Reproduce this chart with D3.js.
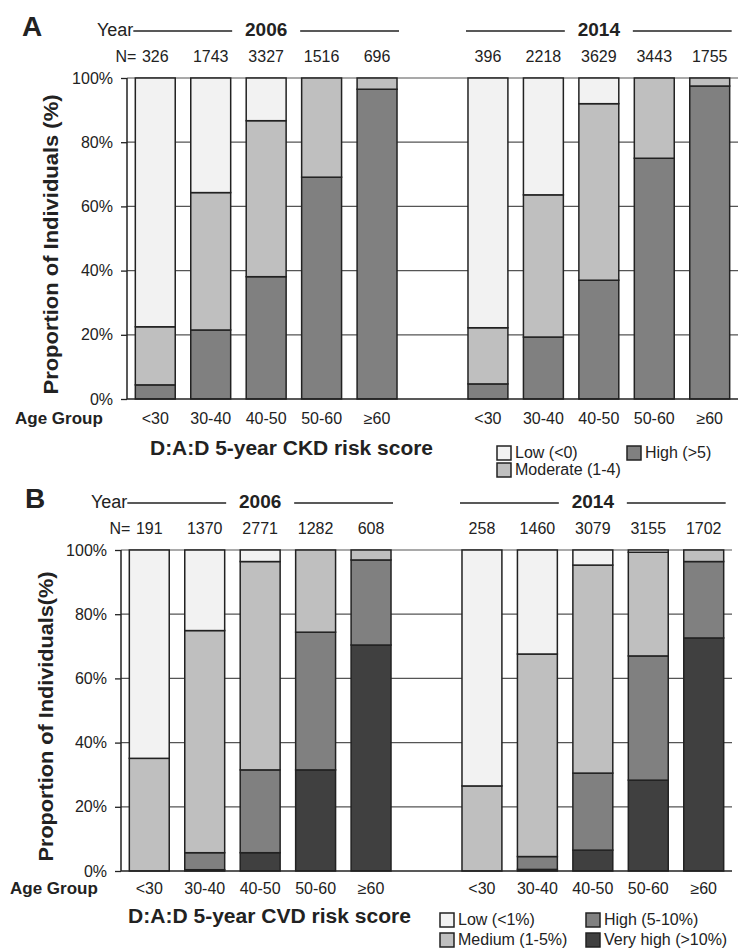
<!DOCTYPE html>
<html>
<head>
<meta charset="utf-8">
<script src="https://cdn.jsdelivr.net/npm/d3@7"></script>
<style>
  body { margin: 0; background: #fff; }
  text { font-family: "Liberation Sans", Arial, sans-serif; fill: #222; }
</style>
</head>
<body>
<div id="chart"></div>
<script>
// categories and ticks
const ageGroups = ["<30", "30-40", "40-50", "50-60", "≥60"];
const years = ["2006", "2014"];
const yTicks = [0, 20, 40, 60, 80, 100];

// panel A: CKD risk (segments bottom -> top, %)
const ckdSeries = ["High (>5)", "Moderate (1-4)", "Low (<0)"];
const ckdColors = ["#808080", "#bfbfbf", "#f2f2f2"];
const ckdN2006 = [326, 1743, 3327, 1516, 696];
const ckdN2014 = [396, 2218, 3629, 3443, 1755];
const ckdHigh2006 = [4.4, 21.5, 38.1, 69.1, 96.5];
const ckdModerate2006 = [18.1, 42.8, 48.6, 30.9, 3.5];
const ckdLow2006 = [77.5, 35.7, 13.3, 0, 0];
const ckdHigh2014 = [4.7, 19.3, 37.0, 75.0, 97.5];
const ckdModerate2014 = [17.5, 44.3, 55.0, 25.0, 2.5];
const ckdLow2014 = [77.8, 36.4, 8.0, 0, 0];
const ckdLegend = ["Low (<0)", "Moderate (1-4)", "High (>5)"];

// panel B: CVD risk
const cvdSeries = ["Very high (>10%)", "High (5-10%)", "Medium (1-5%)", "Low (<1%)"];
const cvdColors = ["#404040", "#808080", "#bfbfbf", "#f2f2f2"];
const cvdN2006 = [191, 1370, 2771, 1282, 608];
const cvdN2014 = [258, 1460, 3079, 3155, 1702];
const cvdVeryHigh2006 = [0, 0.4, 5.7, 31.5, 70.4];
const cvdHigh2006 = [0, 5.3, 25.8, 42.9, 26.5];
const cvdMedium2006 = [35.1, 69.2, 64.9, 25.6, 3.1];
const cvdLow2006 = [64.9, 25.1, 3.6, 0, 0];
const cvdVeryHigh2014 = [0, 0.5, 6.5, 28.3, 72.6];
const cvdHigh2014 = [0, 4.0, 24.0, 38.7, 23.8];
const cvdMedium2014 = [26.5, 63.1, 64.8, 32.3, 3.6];
const cvdLow2014 = [73.5, 32.4, 4.7, 0.7, 0];
const cvdLegend = ["Low (<1%)", "Medium (1-5%)", "High (5-10%)", "Very high (>10%)"];

const svg = d3.select("#chart").append("svg")
  .attr("width", 739)
  .attr("height", 950);

function buildRows(series, nByYear, valuesByYear) {
  let rows = [];
  years.forEach((yr, yi) => {
    ageGroups.forEach((age, ai) => {
      let r = {key: yr + "|" + age, year: yr, age: age, n: nByYear[yi][ai]};
      series.forEach((s, si) => r[s] = valuesByYear[yi][si][ai]);
      rows.push(r);
    });
  });
  return rows;
}

function drawPanel(o) {
  const g = svg.append("g");
  const domain = years[0] === years[0] ? [] : [];
  ageGroups.forEach(a => domain.push(years[0] + "|" + a));
  domain.push("gap");
  ageGroups.forEach(a => domain.push(years[1] + "|" + a));

  const x = d3.scaleBand().domain(domain).range([o.axisX, o.right])
    .paddingInner(0.28).paddingOuter(0.15);
  const y = d3.scaleLinear().domain([0, 100]).range([o.bottom, o.top]);
  const bw = x.bandwidth();

  // gridlines
  g.selectAll("line.grid")
    .data(yTicks.filter(t => t > 0))
    .join("line")
    .attr("class", "grid")
    .attr("x1", o.axisX).attr("x2", o.right)
    .attr("y1", d => y(d)).attr("y2", d => y(d))
    .attr("stroke", "#555").attr("stroke-width", 1.2);

  // y axis
  const ax = g.append("g")
    .attr("transform", `translate(${o.axisX},0)`)
    .call(d3.axisLeft(y).tickValues(yTicks).tickFormat(d => d + "%").tickSize(6).tickPadding(8));
  ax.select(".domain").remove();
  ax.selectAll(".tick line").attr("stroke", "#222").attr("stroke-width", 1.3);
  ax.selectAll(".tick text").attr("font-size", 16).style("font-family", "'Liberation Sans', Arial, sans-serif").attr("fill", "#222");

  g.append("line")
    .attr("x1", o.axisX).attr("x2", o.axisX)
    .attr("y1", y(100)).attr("y2", y(0))
    .attr("stroke", "#222").attr("stroke-width", 1.5);

  // bars
  const stacked = d3.stack().keys(o.series)(o.rows);
  g.selectAll("g.layer")
    .data(stacked)
    .join("g")
    .attr("class", "layer")
    .attr("fill", (d, i) => o.colors[i])
    .selectAll("rect")
    .data(d => d.filter(s => s[1] - s[0] > 0))
    .join("rect")
    .attr("x", d => x(d.data.key))
    .attr("width", bw)
    .attr("y", d => y(d[1]))
    .attr("height", d => y(d[0]) - y(d[1]))
    .attr("stroke", "#222")
    .attr("stroke-width", 1.5);

  // baseline
  g.append("line")
    .attr("x1", o.axisX).attr("x2", o.right)
    .attr("y1", y(0)).attr("y2", y(0))
    .attr("stroke", "#222").attr("stroke-width", 1.5);

  // N labels
  g.selectAll("text.n")
    .data(o.rows)
    .join("text")
    .attr("class", "n")
    .attr("x", d => x(d.key) + bw / 2)
    .attr("y", o.nY)
    .attr("text-anchor", "middle")
    .attr("dominant-baseline", "middle")
    .attr("font-size", 16)
    .text(d => d.n);
  g.append("text")
    .attr("x", x(domain[0]) + 1)
    .attr("y", o.nY)
    .attr("text-anchor", "end")
    .attr("dominant-baseline", "middle")
    .attr("font-size", 16)
    .text("N=");

  // age group labels
  g.selectAll("text.cat")
    .data(o.rows)
    .join("text")
    .attr("class", "cat")
    .attr("x", d => x(d.key) + bw / 2)
    .attr("y", o.catY)
    .attr("text-anchor", "middle")
    .attr("dominant-baseline", "middle")
    .attr("font-size", 16)
    .text(d => d.age);
  g.append("text")
    .attr("x", o.ageX)
    .attr("y", o.catY)
    .attr("dominant-baseline", "middle")
    .attr("font-size", 17)
    .attr("font-weight", "bold")
    .text("Age Group");

  // year headers
  years.forEach((yr, yi) => {
    const gx0 = x(yr + "|" + ageGroups[0]);
    const gx1 = x(yr + "|" + ageGroups[ageGroups.length - 1]) + bw;
    const cx = (gx0 + gx1) / 2;
    g.append("line").attr("x1", gx0 - 2).attr("x2", cx - 34)
      .attr("y1", o.yearY).attr("y2", o.yearY).attr("stroke", "#222").attr("stroke-width", 1.5);
    g.append("line").attr("x1", cx + 34).attr("x2", gx1 + 2)
      .attr("y1", o.yearY).attr("y2", o.yearY).attr("stroke", "#222").attr("stroke-width", 1.5);
    g.append("text").attr("x", cx).attr("y", o.yearY)
      .attr("text-anchor", "middle").attr("dominant-baseline", "middle")
      .attr("font-size", 19).attr("font-weight", "bold").text(yr);
    if (yi === 0) {
      g.append("text").attr("x", gx0 - 2).attr("y", o.yearY)
        .attr("text-anchor", "end").attr("dominant-baseline", "middle")
        .attr("font-size", 18).text("Year");
    }
  });

  // panel letter
  g.append("text").attr("x", o.letterX).attr("y", o.yearY - 2)
    .attr("dominant-baseline", "middle")
    .attr("font-size", 28).attr("font-weight", "bold").attr("fill", "#000")
    .text(o.letter);

  // y title
  g.append("text")
    .attr("transform", `translate(${o.titleX},${(o.top + o.bottom) / 2 + 6}) rotate(-90)`)
    .attr("text-anchor", "middle")
    .attr("dominant-baseline", "middle")
    .attr("font-size", 20).attr("font-weight", "bold")
    .attr("textLength", o.titleLen).attr("lengthAdjust", "spacingAndGlyphs")
    .text(o.yTitle);

  // subtitle
  g.append("text")
    .attr("x", o.subX).attr("y", o.subY)
    .attr("dominant-baseline", "middle")
    .attr("font-size", 20).attr("font-weight", "bold")
    .attr("textLength", 283).attr("lengthAdjust", "spacingAndGlyphs")
    .text(o.subtitle);

  // legend (column-major, two rows)
  const colorOf = name => o.colors[o.series.indexOf(name)];
  const lg = g.selectAll("g.leg")
    .data(o.legend)
    .join("g")
    .attr("class", "leg")
    .attr("transform", (d, i) => `translate(${o.legX[Math.floor(i / 2)]},${o.legY + (i % 2) * o.legStep})`);
  lg.append("rect")
    .attr("width", 14).attr("height", 14)
    .attr("fill", d => colorOf(d))
    .attr("stroke", "#222").attr("stroke-width", 1.5);
  lg.append("text")
    .attr("x", 18).attr("y", 8)
    .attr("dominant-baseline", "middle")
    .attr("font-size", 16)
    .text(d => d);
}

drawPanel({
  letter: "A", letterX: 22,
  axisX: 127, right: 738, top: 78, bottom: 399,
  yearY: 31, nY: 58, catY: 420, ageX: 15,
  titleX: 53, titleLen: 300, yTitle: "Proportion of Individuals (%)",
  subX: 150, subY: 450, subtitle: "D:A:D 5-year CKD risk score",
  series: ckdSeries, colors: ckdColors,
  rows: buildRows(ckdSeries, [ckdN2006, ckdN2014], [
    [ckdHigh2006, ckdModerate2006, ckdLow2006],
    [ckdHigh2014, ckdModerate2014, ckdLow2014]
  ]),
  legend: ckdLegend, legX: [497, 627], legY: 446, legStep: 17
});

drawPanel({
  letter: "B", letterX: 25,
  axisX: 121, right: 732, top: 550, bottom: 871,
  yearY: 503, nY: 530, catY: 890, ageX: 10,
  titleX: 48, titleLen: 290, yTitle: "Proportion of Individuals(%)",
  subX: 128, subY: 918, subtitle: "D:A:D 5-year CVD risk score",
  series: cvdSeries, colors: cvdColors,
  rows: buildRows(cvdSeries, [cvdN2006, cvdN2014], [
    [cvdVeryHigh2006, cvdHigh2006, cvdMedium2006, cvdLow2006],
    [cvdVeryHigh2014, cvdHigh2014, cvdMedium2014, cvdLow2014]
  ]),
  legend: cvdLegend, legX: [440, 586], legY: 913, legStep: 20
});
</script>
</body>
</html>
